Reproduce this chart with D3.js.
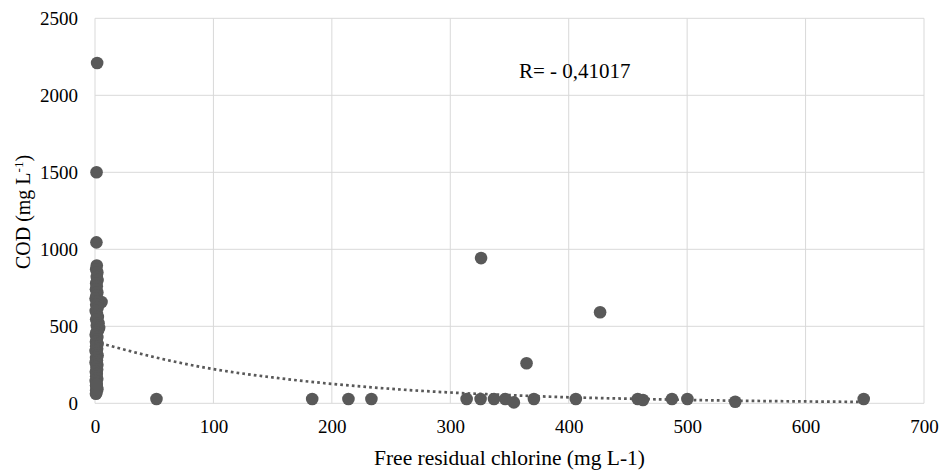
<!DOCTYPE html>
<html>
<head>
<meta charset="utf-8">
<script src="https://cdn.jsdelivr.net/npm/d3@7/dist/d3.min.js"></script>
<style>
  html, body { margin: 0; padding: 0; background: #fff; }
  svg { display: block; }
  svg text { font-family: 'Liberation Serif', 'Times New Roman', serif; fill: #000; }
</style>
</head>
<body>
<svg id="chart" width="939" height="470"></svg>
<script>
// Free residual chlorine (mg L-1)
const chlorine = [
  1.8, 1.3, 1.2,
  1.5, 1.0, 2.0, 1.5, 2.2, 1.0, 1.5, 0.8, 2.0, 1.2, 0.5, 5.5, 1.8, 1.0, 2.2, 0.6,
  1.6, 2.4, 1.0, 3.0, 1.5, 3.5, 2.6, 1.2, 0.6, 2.0, 1.4, 0.8, 2.2, 1.0, 1.8, 0.5,
  1.5, 2.2, 0.9, 1.6, 0.5, 2.0, 1.2, 1.8, 0.7, 1.5, 1.0, 1.9, 0.6, 1.3, 0.9, 1.6,
  1.0, 1.2, 0.8, 2.0, 1.4,
  51.9, 183.4, 214, 233.4, 313.8, 325.6, 326, 336.9, 346.4, 353.7, 364.4, 370.6,
  406, 426.5, 458.3, 462.7, 487.2, 500.2, 540.6, 649.1
];
// COD (mg L-1)
const cod = [
  2210, 1500, 1045,
  895, 870, 850, 820, 800, 780, 760, 740, 720, 700, 680, 658, 660, 640, 620, 600,
  580, 560, 545, 520, 505, 490, 475, 460, 445, 430, 415, 400, 385, 370, 355, 340,
  325, 310, 295, 280, 265, 250, 235, 220, 205, 190, 175, 160, 145, 130, 115, 100,
  85, 68, 62, 92, 122,
  28, 28, 28, 28, 28, 28, 943, 28, 28, 6, 260, 28,
  28, 591, 28, 21, 28, 28, 10, 28
];
// Trend line
const trendX = [0, 10, 50, 100, 150, 200, 250, 300, 350, 400, 450, 500, 550, 600, 650];
const trendY = [400, 379, 300, 222, 168, 126, 94, 70, 53, 39, 30, 22, 16, 12, 9];

const xTicks = [0, 100, 200, 300, 400, 500, 600, 700];
const yTicks = [0, 500, 1000, 1500, 2000, 2500];
const rLabel = "R= - 0,41017";

const FONT = "Liberation Serif";
const svg = d3.select("#chart");
const x = d3.scaleLinear().domain([0, 700]).range([95, 924]);
const y = d3.scaleLinear().domain([0, 2500]).range([403.3, 18.3]);

const grid = svg.append("g");
grid.selectAll("line.h").data(yTicks).join("line")
  .attr("x1", x(0)).attr("x2", x(700))
  .attr("y1", d => y(d)).attr("y2", d => y(d))
  .attr("stroke", "#d9d9d9").attr("stroke-width", 1);
grid.selectAll("line.v").data(xTicks).join("line")
  .attr("y1", y(0)).attr("y2", y(2500))
  .attr("x1", d => x(d)).attr("x2", d => x(d))
  .attr("stroke", "#d9d9d9").attr("stroke-width", 1);

// Axes (labels only)
const yAxis = d3.axisLeft(y).tickValues(yTicks).tickFormat(d3.format("d")).tickSize(0).tickPadding(17);
svg.append("g").attr("transform", `translate(${x(0)},0)`).call(yAxis)
  .attr("font-family", FONT).attr("font-size", 19)
  .call(g => g.select(".domain").remove())
  .selectAll("text").attr("fill", "#000");

const xAxis = d3.axisBottom(x).tickValues(xTicks).tickFormat(d3.format("d")).tickSize(0).tickPadding(16);
svg.append("g").attr("transform", `translate(0,${y(0)})`).call(xAxis)
  .attr("font-family", FONT).attr("font-size", 19)
  .call(g => g.select(".domain").remove())
  .selectAll("text").attr("fill", "#000");

const data = chlorine.map((c, i) => ({ x: c, y: cod[i] }));
const trend = trendX.map((t, i) => ({ x: t, y: trendY[i] }));

// Points
svg.append("g").selectAll("circle").data(data).join("circle")
  .attr("cx", d => x(d.x)).attr("cy", d => y(d.y)).attr("r", 6.3)
  .attr("fill", "#595959");

// Trend line
svg.append("path").datum(trend)
  .attr("d", d3.line().x(d => x(d.x)).y(d => y(d.y)).curve(d3.curveMonotoneX))
  .attr("fill", "none").attr("stroke", "#595959").attr("stroke-width", 2.7)
  .attr("stroke-dasharray", "2.7,3.1");

// Annotation
svg.append("text").attr("x", 519).attr("y", 78)
  .attr("font-family", FONT).attr("font-size", 21).text(rLabel);

// Axis titles
svg.append("text").attr("x", 509.5).attr("y", 465).attr("text-anchor", "middle")
  .attr("font-family", FONT).attr("font-size", 21.5).text("Free residual chlorine (mg L-1)");

const yt = svg.append("text")
  .attr("transform", "translate(30,212) rotate(-90)")
  .attr("font-family", FONT)
  .attr("text-anchor", "middle").attr("font-size", 20);
yt.append("tspan").text("COD (mg L");
yt.append("tspan").attr("baseline-shift", "super").attr("font-size", 13).text("-1");
yt.append("tspan").text(")");
</script>
</body>
</html>
